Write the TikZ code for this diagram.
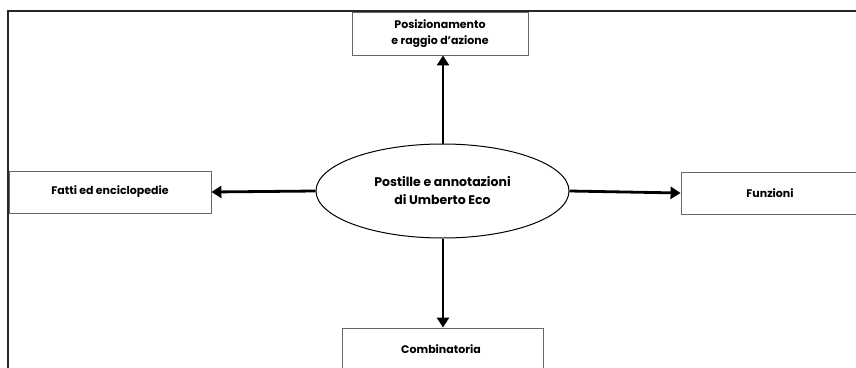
\documentclass[tikz,border=0pt]{standalone}
\usepackage{fontspec}
\setmainfont{Poppins}
\usetikzlibrary{arrows.meta,shapes.geometric}
\begin{document}
\begin{tikzpicture}[x=1pt,y=-1pt,
  box/.style={draw=black!60,line width=0.9pt,fill=white,inner sep=0pt,font=\fontsize{11}{16}\selectfont\bfseries,align=center},
  arr/.style={line width=2.8pt,-{Triangle[length=10pt,width=12pt]}},
  frame/.style={line width=1.5pt,draw=black!85}]
\useasboundingbox (0,0) rectangle (856,367);
\clip (0,0) rectangle (856,367);
\fill[white] (0,0) rectangle (856,367);
\draw[frame] (8,380) -- (8,11) -- (870,11);
\node[box,minimum width=176pt,minimum height=43pt] (top) at (440,33.5) {Posizionamento\\e raggio d’azione};
\node[box,minimum width=202pt,minimum height=42pt] (left) at (110,192) {Fatti ed enciclopedie};
\node[box,minimum width=178pt,minimum height=42pt] (right) at (770,193) {Funzioni};
\node[box,minimum width=201pt,minimum height=44pt] (bottom) at (442.5,350) {};
\node[font=\fontsize{11}{16}\selectfont\bfseries] (btext) at (441,349) {Combinatoria};
\node[draw=black,line width=1pt,ellipse,minimum width=253pt,minimum height=94pt,inner sep=0pt,align=center,font=\fontsize{12.5}{18}\selectfont\bfseries] (c) at (442.5,191) {Postille e annotazioni\\di Umberto Eco};
\draw[arr] (c.north -| 443,0) -- (top.south -| 443,0);
\draw[arr] (c.west) -- (left.east);
\draw[arr] (c.east) -- (right.west);
\draw[arr] (c.south -| 443,0) -- (bottom.north -| 443,0);
\end{tikzpicture}
\end{document}
